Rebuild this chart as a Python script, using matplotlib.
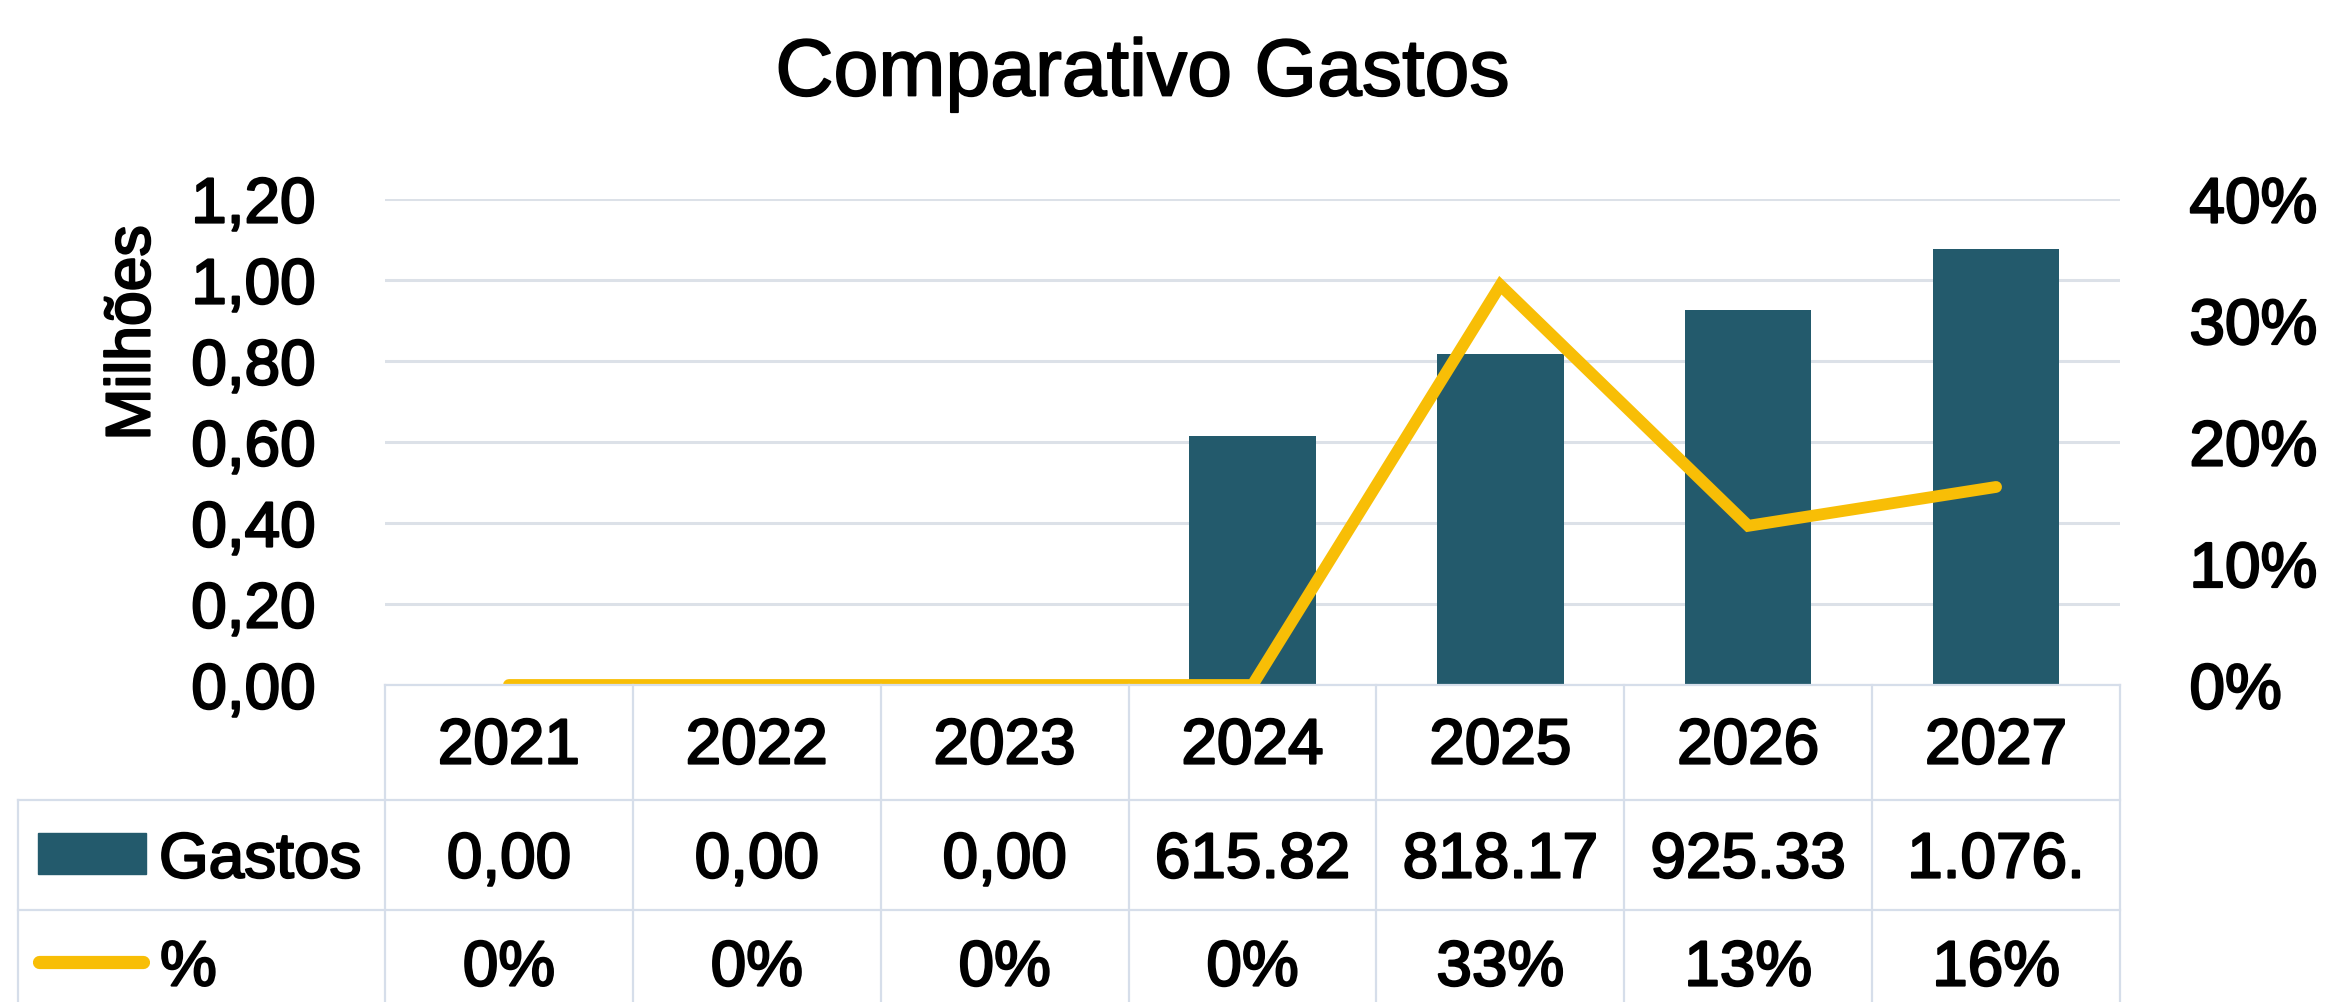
import matplotlib.pyplot as plt
import matplotlib.patheffects as pe
from matplotlib.transforms import blended_transform_factory
from matplotlib.lines import Line2D
from matplotlib.patches import Rectangle

plt.rcParams['font.family'] = ['Liberation Sans', 'DejaVu Sans']

# dados
anos = ['2021', '2022', '2023', '2024', '2025', '2026', '2027']
gastos = [0.0, 0.0, 0.0, 0.61582, 0.81817, 0.92533, 1.0765]  # milhoes
gastos_txt = ['0,00', '0,00', '0,00', '615.82', '818.17', '925.33', '1.076.']
pct = [0.0, 0.0, 0.0, 0.0, 32.9, 13.1, 16.3]
pct_txt = ['0%', '0%', '0%', '0%', '33%', '13%', '16%']
yticks_l = [0.0, 0.2, 0.4, 0.6, 0.8, 1.0, 1.2]
ylabels_l = ['0,00', '0,20', '0,40', '0,60', '0,80', '1,00', '1,20']
yticks_r = [0, 10, 20, 30, 40]
ylabels_r = ['0%', '10%', '20%', '30%', '40%']

teal = '#235A6C'
gold = '#F8BE06'
grid_c = '#DCE1E8'
tab_c = '#D6DEEA'

# slightly heavier text, like the reference
heavy = [pe.withStroke(linewidth=1.6, foreground='black')]
heavy_t = [pe.withStroke(linewidth=1.3, foreground='black')]

W, H = 2329, 1002
fig = plt.figure(figsize=(W / 100, H / 100), dpi=100)

# plot area in pixels
x0, x1, ytop, ybot = 385, 2120, 199, 685
ax = fig.add_axes([x0 / W, 1 - ybot / H, (x1 - x0) / W, (ybot - ytop) / H])
ax2 = ax.twinx()

xs = list(range(len(anos)))
ax.bar(xs, gastos, width=0.51, color=teal, zorder=2)
ax2.plot(xs, pct, color=gold, lw=8.5, solid_capstyle='round',
         solid_joinstyle='miter', zorder=3)

ax.set_xlim(-0.5, len(anos) - 0.5)
ax.set_ylim(0, 1.2)
ax2.set_ylim(0, 40)
ax.set_yticks(yticks_l)
ax.set_yticklabels(ylabels_l)
ax2.set_yticks(yticks_r)
ax2.set_yticklabels(ylabels_r)
ax.set_xticks([])
for a in (ax, ax2):
    a.tick_params(length=0, labelsize=46, pad=50)
    for s in a.spines.values():
        s.set_visible(False)
    for lab in a.get_yticklabels():
        lab.set_path_effects(heavy)
ax.yaxis.grid(True, color=grid_c, lw=2.2)
ax.set_axisbelow(True)

# titulo e rotulo
fig.text(1142 / W, 1 - 66 / H, 'Comparativo Gastos', fontsize=58,
         ha='center', va='center_baseline', path_effects=heavy_t)
fig.text(133 / W, 1 - 333 / H, 'Milhões', fontsize=45, rotation=90,
         ha='center', va='center', path_effects=heavy)

# tabela de dados
bt = blended_transform_factory(ax.transData, fig.transFigure)
row_lines = [685, 800, 910]
for i in range(len(anos) + 1):
    fig.add_artist(Line2D([i - 0.5, i - 0.5], [1 - 685 / H, 0], transform=bt,
                          color=tab_c, lw=1.6))
fig.add_artist(Line2D([-0.5, len(anos) - 0.5], [1 - 685 / H] * 2, transform=bt,
                      color=tab_c, lw=1.6))
for yl in row_lines[1:]:
    fig.add_artist(Line2D([18 / W, x1 / W], [1 - yl / H] * 2,
                          transform=fig.transFigure, color=tab_c, lw=1.6))
fig.add_artist(Line2D([18 / W, 18 / W], [1 - 800 / H, 0],
                      transform=fig.transFigure, color=tab_c, lw=1.6))

for i in xs:
    fig.text(i, 1 - 740 / H, anos[i], transform=bt, fontsize=46,
             ha='center', va='center_baseline', path_effects=heavy)
    fig.text(i, 1 - 854 / H, gastos_txt[i], transform=bt, fontsize=46,
             ha='center', va='center_baseline', path_effects=heavy)
    fig.text(i, 1 - 962 / H, pct_txt[i], transform=bt, fontsize=46,
             ha='center', va='center_baseline', path_effects=heavy)

# chaves da legenda
fig.add_artist(Rectangle((38 / W, 1 - 874 / H), 108 / W, 41 / H,
                         transform=fig.transFigure, color=teal))
fig.text(159 / W, 1 - 854 / H, 'Gastos', fontsize=46, ha='left',
         va='center_baseline', path_effects=heavy)
fig.add_artist(Line2D([39 / W, 143 / W], [1 - 962 / H] * 2,
                      transform=fig.transFigure, color=gold, lw=9.5,
                      solid_capstyle='round'))
fig.text(160 / W, 1 - 962 / H, '%', fontsize=46, ha='left',
         va='center_baseline', path_effects=heavy)

fig.savefig('out.png', dpi=100, facecolor='white')
